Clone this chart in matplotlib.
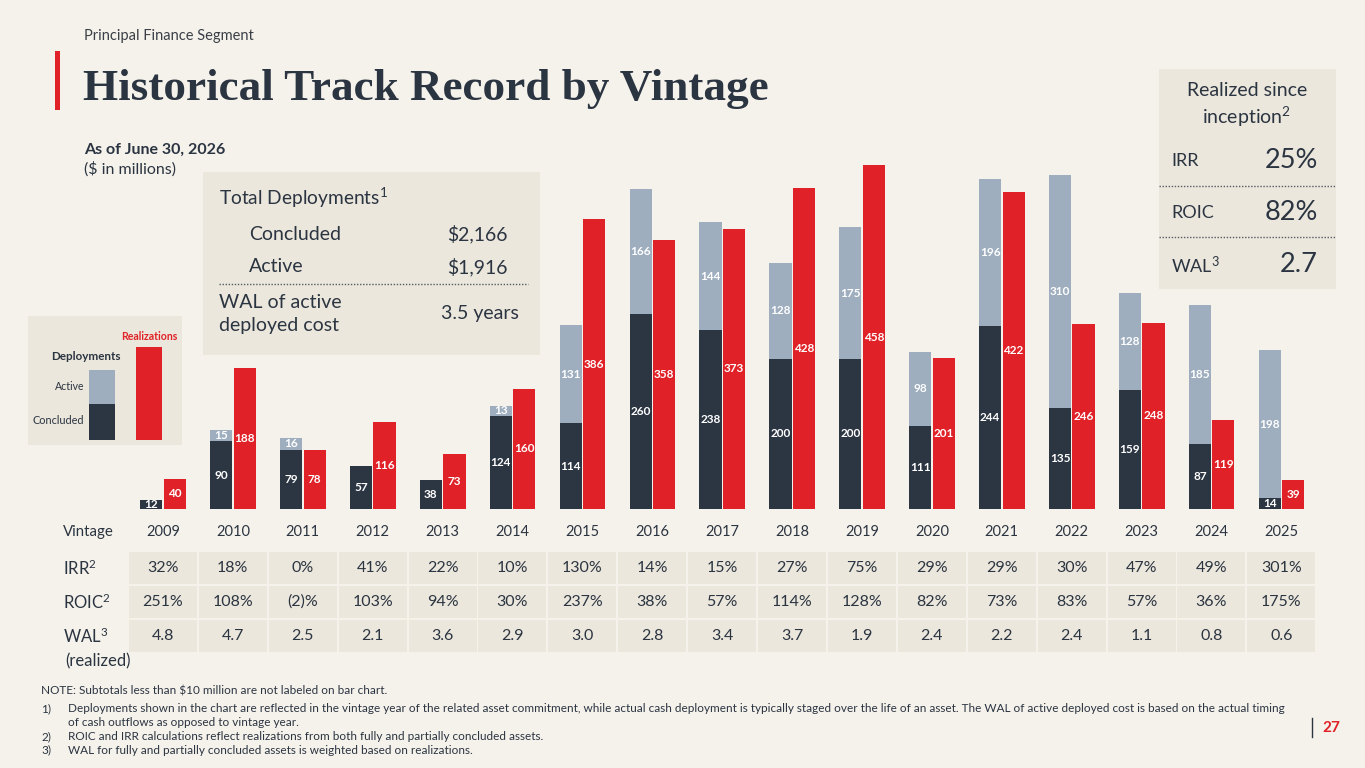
import matplotlib
matplotlib.use("Agg")
import matplotlib.pyplot as plt
from matplotlib.patches import Rectangle

# ---------------- data ----------------
years = ["2009", "2010", "2011", "2012", "2013", "2014", "2015", "2016", "2017",
         "2018", "2019", "2020", "2021", "2022", "2023", "2024", "2025"]
concluded = [12, 90, 79, 57, 38, 124, 114, 260, 238, 200, 200, 111, 244, 135, 159, 87, 14]
active = [0, 15, 16, 0, 0, 13, 131, 166, 144, 128, 175, 98, 196, 310, 128, 185, 198]
realizations = [40, 188, 78, 116, 73, 160, 386, 358, 373, 428, 458, 201, 422, 246, 248, 119, 39]
irr = ["32%", "18%", "0%", "41%", "22%", "10%", "130%", "14%", "15%", "27%", "75%",
       "29%", "29%", "30%", "47%", "49%", "301%"]
roic = ["251%", "108%", "(2)%", "103%", "94%", "30%", "237%", "38%", "57%", "114%",
        "128%", "82%", "73%", "83%", "57%", "36%", "175%"]
wal = ["4.8", "4.7", "2.5", "2.1", "3.6", "2.9", "3.0", "2.8", "3.4", "3.7", "1.9",
       "2.4", "2.2", "2.4", "1.1", "0.8", "0.6"]
row_labels = ["IRR$^{2}$", "ROIC$^{2}$", "WAL$^{3}$"]
summary_labels = ["IRR", "ROIC", "WAL$^{3}$"]
summary_values = ["25%", "82%", "2.7"]
deploy_labels = ["Concluded", "Active"]
deploy_values = ["\\$2,166", "\\$1,916"]

# ---------------- style ----------------
BG = "#f5f2eb"
BOX = "#ebe7dc"
NAVY = "#2c3643"
GRAY = "#9eaebf"
RED = "#e02127"
TXT = "#2b3441"
FONT = ["Lato", "DejaVu Sans"]
plt.rcParams["font.family"] = FONT
plt.rcParams["mathtext.fontset"] = "custom"
plt.rcParams["mathtext.rm"] = "Lato"
plt.rcParams["mathtext.it"] = "Lato:italic"
plt.rcParams["mathtext.bf"] = "Lato:bold"
plt.rcParams["mathtext.default"] = "regular"

W, H = 1365, 768
fig = plt.figure(figsize=(W / 100, H / 100), dpi=100, facecolor=BG)

# page axes in pixel coordinates
pax = fig.add_axes([0, 0, 1, 1], zorder=0)
pax.set_xlim(0, W)
pax.set_ylim(H, 0)
pax.axis("off")

# header
pax.text(84, 36, "Principal Finance Segment", fontsize=10.5, color="#3a3f47", va="center")
pax.add_patch(Rectangle((55, 51), 4.5, 59, color=RED, lw=0))
pax.text(83, 100, "Historical Track Record by Vintage", family=["Liberation Serif", "DejaVu Serif"],
         fontsize=32.5, fontweight="bold", color=TXT, va="baseline")
pax.text(84, 150, "As of June 30, 2026", fontsize=11.5, fontweight="bold", color=TXT, va="center")
pax.text(84, 169, "(\\$ in millions)", fontsize=11.5, color=TXT, va="center")

# total deployments box
pax.add_patch(Rectangle((203, 172), 337, 183, color=BOX, lw=0))
pax.text(219, 198, "Total Deployments$^{1}$", fontsize=13.8, color=TXT, va="center")
for k, (lab, val) in enumerate(zip(deploy_labels, deploy_values)):
    yy = 234 + 33 * k
    pax.text(249, yy, lab, fontsize=14, color=TXT, va="center")
    pax.text(508, yy, val, fontsize=14, color=TXT, va="center", ha="right")
pax.plot([219, 528], [284, 284], color="#555b63", lw=1.0, ls=(0, (1, 1.2)))
pax.text(219, 302, "WAL of active", fontsize=14, color=TXT, va="center")
pax.text(219, 326, "deployed cost", fontsize=14, color=TXT, va="center")
pax.text(519, 314, "3.5 years", fontsize=14, color=TXT, va="center", ha="right")

# realized box
pax.add_patch(Rectangle((1159, 69), 177, 220, color=BOX, lw=0))
pax.text(1247, 91, "Realized since", fontsize=14, color=TXT, va="center", ha="center")
pax.text(1247, 117, "inception$^{2}$", fontsize=14, color=TXT, va="center", ha="center")
for k, (lab, val) in enumerate(zip(summary_labels, summary_values)):
    yy = 161 + 52 * k
    pax.text(1171, yy, lab, fontsize=13, color=TXT, va="center")
    pax.text(1318, yy, val, fontsize=19.5, color=TXT, va="center", ha="right")
for yy in (186, 237):
    pax.plot([1159, 1336], [yy, yy], color="#555b63", lw=1.0, ls=(0, (1, 1.2)))

# legend box
pax.add_patch(Rectangle((28, 316), 154, 129, color=BOX, lw=0))
pax.add_patch(Rectangle((136, 347), 26, 93, color=RED, lw=0))
pax.add_patch(Rectangle((89, 370), 26, 34, color=GRAY, lw=0))
pax.add_patch(Rectangle((89, 404), 26, 36, color=NAVY, lw=0))
pax.text(177, 336, "Realizations", fontsize=7.6, fontweight="bold", color=RED, va="center", ha="right")
pax.text(121, 356, "Deployments", fontsize=8.4, fontweight="bold", color=TXT, va="center", ha="right")
pax.text(84, 387, "Active", fontsize=7.6, color=TXT, va="center", ha="right")
pax.text(84, 420, "Concluded", fontsize=7.8, color=TXT, va="center", ha="right")

# ---------------- bars ----------------
left_px, right_px = 128, 1316.3
base_px, top_px = 509, 150
ax = fig.add_axes([left_px / W, 1 - base_px / H, (right_px - left_px) / W, (base_px - top_px) / H], zorder=1)
ax.patch.set_alpha(0)
ax.set_xlim(-0.5, len(years) - 0.5)
ax.set_ylim(0, (base_px - top_px) / 0.751)
ax.axis("off")

x = list(range(len(years)))
bw = 0.318
xd = [i - 0.166 for i in x]
xr = [i + 0.170 for i in x]
ax.bar(xd, concluded, width=bw, color=NAVY, lw=0)
ax.bar(xd, active, width=bw, bottom=concluded, color=GRAY, lw=0)
ax.bar(xr, realizations, width=bw, color=RED, lw=0)

lab_kw = dict(color="white", fontsize=8.5, ha="center", va="center", fontweight="bold")
for i in x:
    if concluded[i] >= 10:
        ax.text(xd[i], concluded[i] / 2, str(concluded[i]), **lab_kw)
    if active[i] >= 10:
        ax.text(xd[i], concluded[i] + active[i] / 2, str(active[i]), **lab_kw)
    if realizations[i] >= 10:
        ax.text(xr[i], realizations[i] / 2, str(realizations[i]), **lab_kw)

# ---------------- table ----------------
tax = fig.add_axes([left_px / W, 1 - 670 / H, (right_px - left_px) / W, (670 - 515) / H], zorder=1)
tax.patch.set_alpha(0)
tax.set_xlim(-0.5, len(years) - 0.5)
tax.set_ylim(670, 515)
tax.axis("off")

row_tops = [552, 586, 620]
row_h = 32
g = 0.013
for i in x:
    tax.text(i, 532, years[i], fontsize=10.5, color=TXT, ha="center", va="center")
    for r, vals in enumerate((irr, roic, wal)):
        tax.add_patch(Rectangle((i - 0.5 + g, row_tops[r]), 1 - 2 * g, row_h, color=BOX, lw=0))
        tax.text(i, row_tops[r] + row_h / 2, vals[i], fontsize=11.5, color=TXT, ha="center", va="center")

pax.text(63, 532, "Vintage", fontsize=10.8, color=TXT, va="center")
for r, lab in enumerate(row_labels):
    pax.text(63, row_tops[r] + row_h / 2, lab, fontsize=12, color=TXT, va="center")
pax.text(65, 661, "(realized)", fontsize=12, color=TXT, va="center")

# ---------------- footnotes ----------------
fn = 8.5
pax.text(41, 691, "NOTE: Subtotals less than \\$10 million are not labeled on bar chart.", fontsize=fn, color=TXT, va="center")
notes = [
    ("1)", "Deployments shown in the chart are reflected in the vintage year of the related asset commitment, while actual cash deployment is typically staged over the life of an asset. The WAL of active deployed cost is based on the actual timing", 709),
    ("", "of cash outflows as opposed to vintage year.", 722),
    ("2)", "ROIC and IRR calculations reflect realizations from both fully and partially concluded assets.", 737),
    ("3)", "WAL for fully and partially concluded assets is weighted based on realizations.", 750),
]
for num, txt, yy in notes:
    if num:
        pax.text(41, yy, num, fontsize=fn, color=TXT, va="center")
    pax.text(68, yy, txt, fontsize=fn, color=TXT, va="center")

pax.plot([1312, 1312], [718, 737], color=TXT, lw=1)
pax.text(1322, 728, "27", fontsize=11, fontweight="bold", color=RED, va="center")

fig.savefig("out.png", dpi=100, facecolor=BG)
